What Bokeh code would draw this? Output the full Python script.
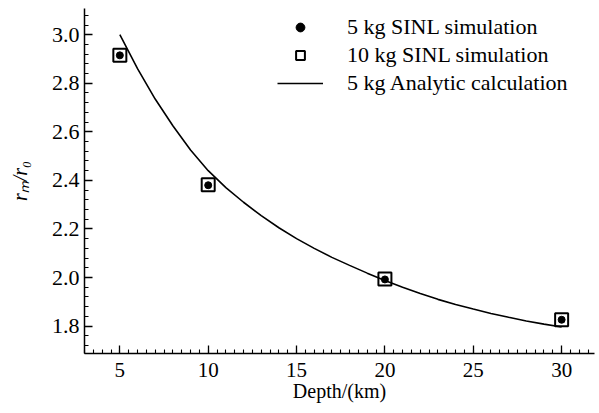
from bokeh.plotting import figure
from bokeh.models import (Range1d, SingleIntervalTicker, PrintfTickFormatter,
                          Legend, LegendItem)
from bokeh.embed import file_html
from bokeh.resources import INLINE

# ---- data ----
depth_sim = [5, 10, 20, 30]
ratio_5kg = [2.915, 2.380, 1.992, 1.826]
ratio_10kg = [2.915, 2.382, 1.994, 1.826]

depth_curve = [5, 6, 7, 8, 9, 10, 11, 12, 13, 14, 15, 16, 17, 18, 19, 20,
               21, 22, 23, 24, 25, 26, 27, 28, 29, 30]
ratio_curve = [3.000, 2.860, 2.735, 2.625, 2.525, 2.440, 2.370, 2.310, 2.255,
               2.205, 2.160, 2.120, 2.083, 2.050, 2.018, 1.988, 1.960, 1.934,
               1.910, 1.889, 1.870, 1.852, 1.836, 1.821, 1.808, 1.796]

labels = ["5 kg SINL simulation", "10 kg SINL simulation", "5 kg Analytic calculation"]
x_label = "Depth/(km)"
y_label = "r\u2098/r\u2080"

FONT = "Liberation Serif"

p = figure(width=599, height=413, output_backend="svg", toolbar_location=None,
           x_range=Range1d(3.0, 31.86), y_range=Range1d(1.687, 3.108),
           min_border_left=84, min_border_right=5, min_border_top=8,
           min_border_bottom=60)
p.outline_line_color = None
p.grid.visible = False
p.background_fill_color = "white"
p.border_fill_color = "white"

# axes
for ax in (p.xaxis[0], p.yaxis[0]):
    ax.axis_line_width = 1.5
    ax.axis_line_color = "black"
    ax.major_tick_in = 8
    ax.major_tick_out = 0
    ax.minor_tick_in = 4
    ax.minor_tick_out = 0
    ax.major_tick_line_width = 1.3
    ax.minor_tick_line_width = 1.1
    ax.major_tick_line_color = "black"
    ax.minor_tick_line_color = "black"
    ax.major_label_text_font = FONT
    ax.major_label_text_color = "black"
    ax.axis_label_text_font = FONT
    ax.axis_label_text_font_size = "20px"
    ax.axis_label_text_color = "black"

p.xaxis[0].major_label_text_font_size = "21px"
p.yaxis[0].major_label_text_font_size = "22px"
p.xaxis[0].ticker = SingleIntervalTicker(interval=5, num_minor_ticks=10)
p.yaxis[0].ticker = SingleIntervalTicker(interval=0.2, num_minor_ticks=5)
p.yaxis[0].formatter = PrintfTickFormatter(format="%.1f")
p.xaxis[0].major_label_standoff = 9
p.yaxis[0].major_label_standoff = 5
p.xaxis[0].axis_label = x_label
p.xaxis[0].axis_label_text_font_style = "normal"
p.xaxis[0].axis_label_standoff = 0
p.yaxis[0].axis_label = y_label
p.yaxis[0].axis_label_text_font_style = "italic"
p.yaxis[0].axis_label_standoff = 18

# data
line_r = p.line(depth_curve, ratio_curve, line_color="black", line_width=1.6)
dot_r = p.scatter(depth_sim, ratio_5kg, marker="circle", size=7,
                  fill_color="black", line_color="black")
sq_r = p.scatter(depth_sim, ratio_10kg, marker="square", size=13,
                 fill_color=None, line_color="black", line_width=2)

legend = Legend(items=[LegendItem(label=labels[0], renderers=[dot_r]),
                       LegendItem(label=labels[1], renderers=[sq_r]),
                       LegendItem(label=labels[2], renderers=[line_r])],
                location=(193, 257), border_line_color=None,
                background_fill_alpha=0, padding=0, margin=0,
                glyph_width=46, glyph_height=22, label_height=24,
                label_standoff=24, spacing=2,
                label_text_font=FONT, label_text_font_size="22px",
                label_text_color="black")
p.add_layout(legend)

open("out.html", "w").write(file_html(p, INLINE))
